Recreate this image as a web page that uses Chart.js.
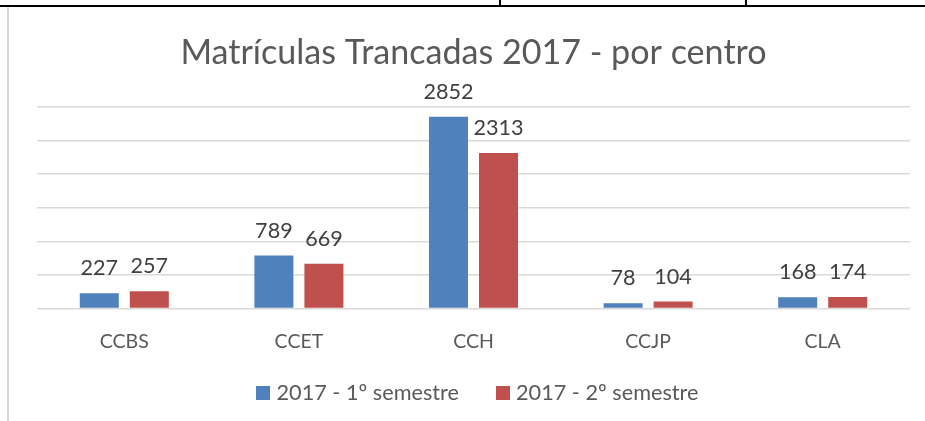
<!DOCTYPE html>
<html>
<head>
<meta charset="utf-8">
<script src="https://cdn.jsdelivr.net/npm/chart.js@4.4.0/dist/chart.umd.min.js"></script>
<style>
  html, body { margin: 0; padding: 0; background: #ffffff; }
  #wrap { position: relative; width: 925px; height: 421px; overflow: hidden; }
  #c { position: absolute; left: 0; top: 0; }
  .ln { position: absolute; background: #000; }
</style>
</head>
<body>
<div id="wrap">
  <canvas id="c" width="925" height="421"></canvas>
  <div class="ln" style="left:0;top:5px;width:925px;height:2px;"></div>
  <div class="ln" style="left:499px;top:0;width:2px;height:6px;"></div>
  <div class="ln" style="left:745px;top:0;width:2px;height:6px;"></div>
  <div class="ln" style="left:7px;top:7px;width:2px;height:414px;background:#d9d9d9;"></div>
</div>
<script>
const chartTitle = 'Matrículas Trancadas 2017 - por centro';
const categories = ['CCBS', 'CCET', 'CCH', 'CCJP', 'CLA'];
const seriesNames = ['2017 - 1º semestre', '2017 - 2º semestre'];
const semestre1 = [227, 789, 2852, 78, 168];
const semestre2 = [257, 669, 2313, 104, 174];
const yTicks = [0, 500, 1000, 1500, 2000, 2500, 3000];

const FAMILY = 'Lato, "Open Sans", sans-serif';
function fitSize(text, target) {
  const ctx = document.createElement('canvas').getContext('2d');
  ctx.font = '100px ' + FAMILY;
  return Math.round(100 * target / ctx.measureText(text).width * 10) / 10;
}
const titleSize = fitSize(chartTitle, 586);
const labelSize = fitSize('2852', 50);
const tickSize = fitSize('CCBS', 49);
const legendSize = fitSize(seriesNames[0], 183);

const dataLabels = {
  id: 'dataLabels',
  afterDatasetsDraw(chart) {
    const ctx = chart.ctx;
    ctx.save();
    ctx.font = labelSize + 'px ' + FAMILY;
    ctx.fillStyle = '#404040';
    ctx.textAlign = 'center';
    ctx.textBaseline = 'alphabetic';
    chart.data.datasets.forEach((ds, di) => {
      const meta = chart.getDatasetMeta(di);
      meta.data.forEach((bar, i) => {
        ctx.fillText(String(ds.data[i]), bar.x, bar.y - 18);
      });
    });
    ctx.restore();
  }
};

// Legend drawn from the chart's own datasets (box 14px, 6px gap, 37px between items)
const bottomLegend = {
  id: 'bottomLegend',
  afterDraw(chart) {
    const ctx = chart.ctx;
    const box = 14, gap = 6, spacing = 37;
    ctx.save();
    ctx.font = legendSize + 'px ' + FAMILY;
    const items = chart.data.datasets.map(ds => ({
      text: ds.label, color: ds.backgroundColor, w: ctx.measureText(ds.label).width
    }));
    const total = items.reduce((s, it) => s + box + gap + it.w, 0) + spacing * (items.length - 1);
    const cx = (chart.chartArea.left + chart.chartArea.right) / 2 + 4;
    const cy = chart.height - 28;
    let x = cx - total / 2;
    ctx.textBaseline = 'middle';
    ctx.textAlign = 'left';
    items.forEach(it => {
      ctx.fillStyle = it.color;
      ctx.fillRect(Math.round(x), Math.round(cy - box / 2), box, box);
      ctx.fillStyle = '#595959';
      ctx.fillText(it.text, x + box + gap, cy);
      x += box + gap + it.w + spacing;
    });
    ctx.restore();
  }
};

new Chart(document.getElementById('c'), {
  type: 'bar',
  data: {
    labels: categories,
    datasets: [
      { label: seriesNames[0], data: semestre1, backgroundColor: '#4F81BD',
        categoryPercentage: 0.573, barPercentage: 0.78 },
      { label: seriesNames[1], data: semestre2, backgroundColor: '#C0504D',
        categoryPercentage: 0.573, barPercentage: 0.78 }
    ]
  },
  options: {
    responsive: false,
    animation: false,
    devicePixelRatio: 1,
    layout: { padding: { left: 37, right: 15, top: 0, bottom: 47 } },
    plugins: {
      title: {
        display: true,
        text: chartTitle,
        color: '#595959',
        font: { family: FAMILY, size: titleSize, weight: 'normal', lineHeight: 1.2 },
        padding: { top: 33, bottom: 33 }
      },
      legend: { display: false },
      tooltip: { enabled: false }
    },
    scales: {
      x: {
        grid: { display: false, drawTicks: false },
        border: { display: false },
        ticks: { color: '#595959', font: { family: FAMILY, size: tickSize }, padding: 21 }
      },
      y: {
        min: yTicks[0],
        max: yTicks[yTicks.length - 1],
        afterBuildTicks(scale) { scale.ticks = yTicks.map(v => ({ value: v })); },
        ticks: { display: false },
        grid: { color: '#d9d9d9', lineWidth: 1.5, drawTicks: false },
        border: { display: false }
      }
    }
  },
  plugins: [dataLabels, bottomLegend]
});
</script>
</body>
</html>
